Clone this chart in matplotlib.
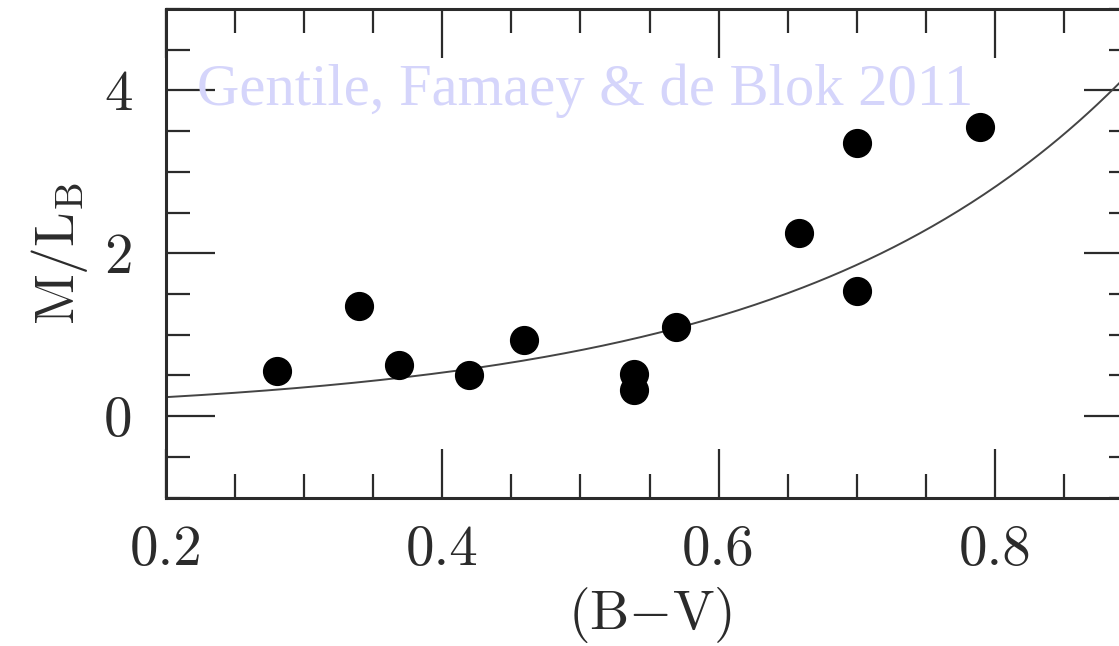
import numpy as np
import matplotlib
matplotlib.use('Agg')
import matplotlib.pyplot as plt
from matplotlib.ticker import MultipleLocator

# galaxies: colour (B-V) and stellar mass-to-light ratio
b_v = [0.280, 0.340, 0.369, 0.419, 0.459, 0.539, 0.539, 0.569, 0.658, 0.700, 0.700, 0.789]
m_l = [0.55, 1.35, 0.63, 0.51, 0.93, 0.52, 0.32, 1.09, 2.25, 3.35, 1.54, 3.55]

# model relation: log10(M/L_B) = a + b (B-V)
a_coef = -0.994
b_coef = 1.804

plt.rcParams['mathtext.fontset'] = 'cm'
plt.rcParams['font.family'] = 'cmr10'
plt.rcParams['axes.formatter.use_mathtext'] = True

ink = '#2b2b2b'

fig = plt.figure(figsize=(11.19, 6.46), dpi=100)
ax = fig.add_axes([166 / 1119, 148.5 / 646, 967 / 1119, 488.5 / 646])

xx = np.linspace(0.2, 0.9, 300)
ax.plot(xx, 10 ** (a_coef + b_coef * xx), color='#444444', lw=1.4, zorder=2)
ax.plot(b_v, m_l, 'o', color='black', ms=20, mec='black', zorder=3)

ax.set_xlim(0.2, 0.9)
ax.set_ylim(-1, 5)
ax.xaxis.set_minor_locator(MultipleLocator(0.05))
ax.yaxis.set_minor_locator(MultipleLocator(0.5))
ax.set_xticks([0.2, 0.4, 0.6, 0.8])
ax.set_xticklabels(['0.2', '0.4', '0.6', '0.8'])
ax.set_yticks([0, 2, 4])
ax.set_yticklabels(['0', '2', '4'])

ax.tick_params(which='both', direction='in', top=True, right=True, color=ink, width=1.6)
ax.tick_params(which='major', length=35, labelsize=41, labelcolor=ink)
ax.tick_params(axis='x', which='major', pad=20)
ax.tick_params(axis='y', which='major', pad=24)
ax.tick_params(which='minor', length=17)
for s in ax.spines.values():
    s.set_linewidth(2.2)
    s.set_color(ink)

ax.set_xlabel(r'$(\mathrm{B{-}V})$', fontsize=40, color=ink, labelpad=6)
ax.set_ylabel(r'$\mathrm{M/L_B}$', fontsize=40, color=ink, labelpad=10)

fig.text(197 / 1119, 1 - 105 / 646, 'Gentile, Famaey & de Blok 2011',
         fontsize=42.2, family='Liberation Serif', color='#d5d5fb',
         ha='left', va='baseline', zorder=1)

fig.savefig('out.png', dpi=100)
